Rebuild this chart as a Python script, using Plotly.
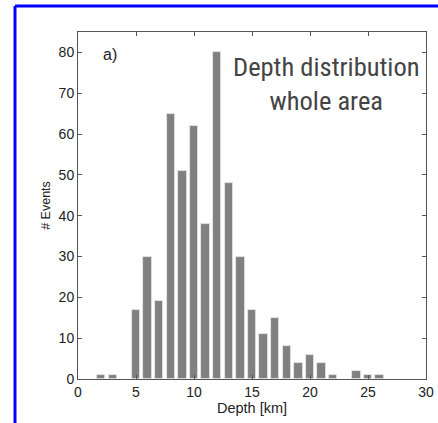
import plotly.graph_objects as go

depth_km = [2, 3, 5, 6, 7, 8, 9, 10, 11, 12, 13, 14, 15, 16, 17, 18, 19, 20, 21, 22, 24, 25, 26]
n_events = [1, 1, 17, 30, 19, 65, 51, 62, 38, 80, 48, 30, 17, 11, 15, 8, 4, 6, 4, 1, 2, 1, 1]

x_ticks = [0, 5, 10, 15, 20, 25, 30]
y_ticks = [0, 10, 20, 30, 40, 50, 60, 70, 80]

fig = go.Figure()
fig.add_trace(go.Bar(
    x=depth_km, y=n_events, width=0.72,
    marker=dict(color="#808080", line=dict(color="#e8e8e8", width=0.8)),
    showlegend=False,
))

L, R, T, B = 78, 12, 32, 44
W, H = 438, 423
pw, ph = W - L - R, H - T - B

def px(x):
    return (x - L) / pw

def py(y):
    return (H - B - y) / ph

axis_common = dict(
    showline=True, linecolor="#555555", linewidth=1, mirror="ticks",
    ticks="inside", ticklen=4, tickcolor="#555555", showgrid=False, zeroline=False,
    automargin=False,
    tickfont=dict(family="Liberation Sans, Arial", size=14, color="#222222"),
)

fig.update_layout(
    width=W, height=H,
    margin=dict(l=L, r=R, t=T, b=B, autoexpand=False),
    paper_bgcolor="white", plot_bgcolor="white",
    bargap=0,
    xaxis=dict(range=[0, 30], tickvals=x_ticks, **axis_common,
               title=dict(text="Depth [km]", standoff=2,
                          font=dict(family="Liberation Sans, Arial", size=14.5, color="#222222"))),
    yaxis=dict(range=[0, 85], tickvals=y_ticks, **axis_common,
               title=dict(text="# Events", standoff=5,
                          font=dict(family="Liberation Sans, Arial", size=12.5, color="#222222"))),
    shapes=[
        dict(type="line", xref="paper", yref="paper", x0=px(15), x1=px(440), y0=py(6), y1=py(6),
             line=dict(color="#0000ff", width=3)),
        dict(type="line", xref="paper", yref="paper", x0=px(15), x1=px(15), y0=py(6), y1=py(425),
             line=dict(color="#0000ff", width=3)),
    ],
    annotations=[
        dict(text="a)", xref="x", yref="y", x=2.0, y=79.6, xanchor="left", yanchor="middle",
             showarrow=False, font=dict(family="Liberation Sans, Arial", size=16, color="#222222")),
        dict(text="Depth distribution<br>whole area", xref="paper", yref="paper",
             x=px(326), y=py(84), xanchor="center", yanchor="middle", showarrow=False,
             align="center",
             font=dict(family="Liberation Sans Narrow, Arial Narrow, Roboto Condensed, sans-serif",
                       size=26.5, color="#444444")),
    ],
)

fig.write_html("out.html")
